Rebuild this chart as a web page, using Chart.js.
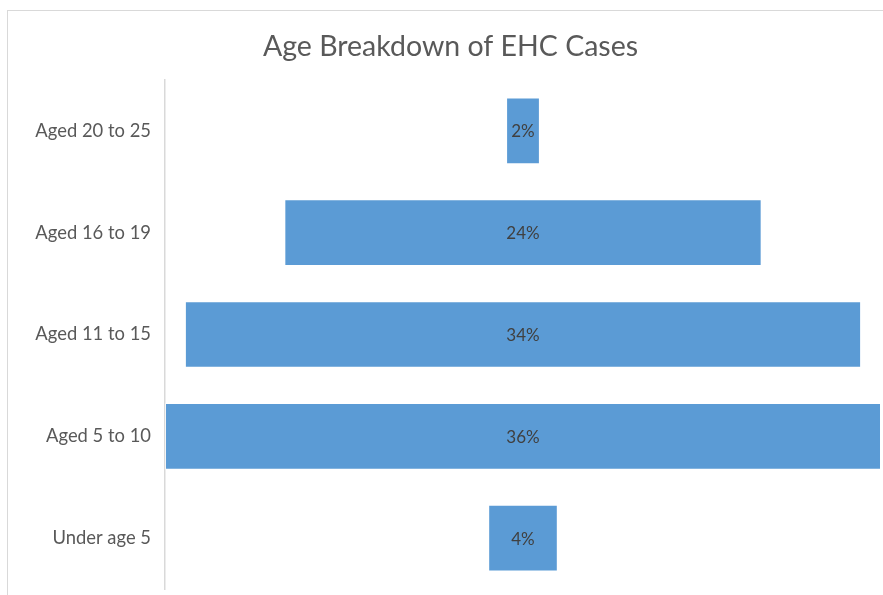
<!DOCTYPE html>
<html>
<head>
<meta charset="utf-8">
<script src="https://cdn.jsdelivr.net/npm/chart.js@4"></script>
<style>
    html, body { margin: 0; padding: 0; background: #fff; overflow: hidden; }
    #wrap { position: relative; width: 883px; height: 595px; }
    /* khung viền ngoài của biểu đồ (bị cắt ở phải / dưới) */
    #frame { position: absolute; left: 7px; top: 10px; width: 1000px; height: 700px; border: 1px solid #d9d9d9; }
    #chart { position: absolute; left: 0; top: 0; }
</style>
</head>
<body>
<div id="wrap">
    <div id="frame"></div>
    <canvas id="chart" width="883" height="595"></canvas>
</div>
<script>
    // == DỮ LIỆU ==
    const categories = ['Aged 20 to 25', 'Aged 16 to 19', 'Aged 11 to 15', 'Aged 5 to 10', 'Under age 5'];
    const shares = [1.7, 24, 34, 36, 3.5];  // % ca bệnh
    const shareLabels = ['2%', '24%', '34%', '36%', '4%'];

    // biểu đồ phễu: mỗi thanh nằm giữa, từ -v/2 đến v/2
    const funnelData = shares.map(v => [-v / 2, v / 2]);

    // -- vẽ nhãn % ở giữa mỗi thanh --
    const barLabels = {
        id: 'barLabels',
        afterDatasetsDraw(chart) {
            const ctx = chart.ctx;
            const meta = chart.getDatasetMeta(0);
            ctx.save();
            ctx.font = '17px Lato, "Open Sans", sans-serif';
            ctx.fillStyle = '#404040';
            ctx.textAlign = 'center';
            ctx.textBaseline = 'middle';
            meta.data.forEach((bar, i) => {
                const xs = chart.scales.x;
                ctx.fillText(shareLabels[i], xs.getPixelForValue(0), bar.y + 1);
            });
            ctx.restore();
        }
    };

    var ctx = document.getElementById('chart').getContext('2d');
    const ehcChart = new Chart(ctx, {
        type: 'bar',
        data: {
            labels: categories,
            datasets: [{
                data: funnelData,
                backgroundColor: '#5b9bd5',
                borderColor: 'rgba(255,255,255,0.5)',
                borderWidth: 1,
                borderSkipped: false,
                barPercentage: 0.655,
                categoryPercentage: 1
            }]
        },
        options: {
            indexAxis: 'y',
            responsive: false,
            animation: false,
            layout: { padding: { left: 20, right: 2, top: 14, bottom: 6 } },
            plugins: {
                legend: { display: false },
                tooltip: { enabled: false },
                title: {
                    display: true,
                    text: 'Age Breakdown of EHC Cases',
                    color: '#595959',
                    font: { family: 'Lato, "Open Sans", sans-serif', size: 28.5, weight: 'normal', lineHeight: 1.2 },
                    padding: { top: 16, bottom: 15.8 }
                }
            },
            scales: {
                x: {
                    display: false,
                    min: -18,
                    max: 18
                },
                y: {
                    grid: { display: false, drawTicks: false },
                    border: { display: true, color: '#d9d9d9', width: 1.5 },
                    ticks: {
                        color: '#595959',
                        padding: 14,
                        font: { family: 'Lato, "Open Sans", sans-serif', size: 18.4 }
                    },
                    afterFit(scale) {
                        scale.width = 145;
                        // bỏ phần đệm trên/dưới do nhãn trục gây ra
                        scale.paddingTop = 0;
                        scale.paddingBottom = 0;
                    }
                }
            }
        },
        plugins: [barLabels]
    });
</script>
</body>
</html>
